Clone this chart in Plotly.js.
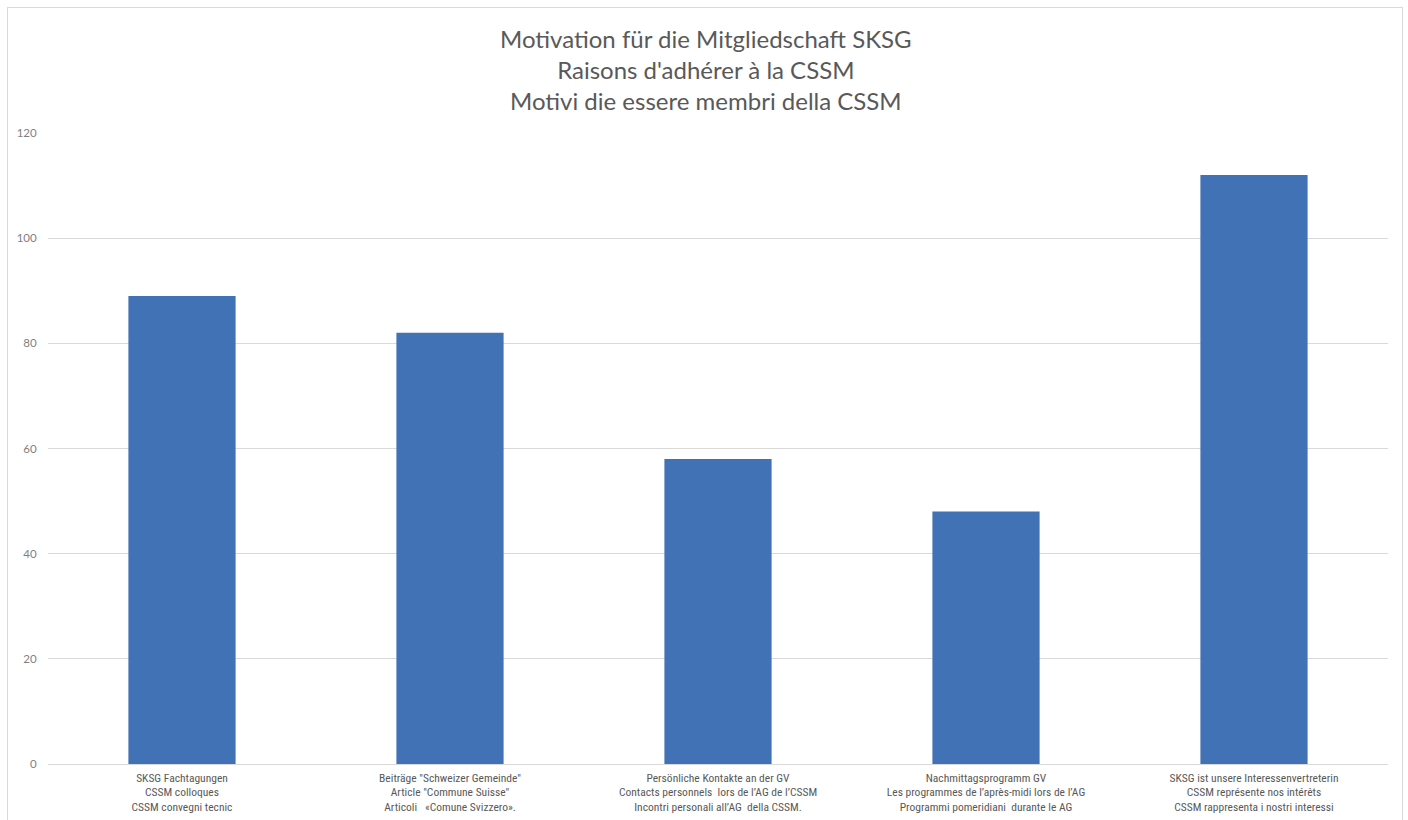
<!DOCTYPE html>
<html>
<head>
<meta charset="utf-8">
<script src="https://cdn.plot.ly/plotly-3.0.1.min.js"></script>
<style>
html,body{margin:0;padding:0;background:#fff;overflow:hidden;}
#frame{position:absolute;left:7px;top:7px;width:1396px;height:830px;border:1px solid #d9d9d9;box-sizing:border-box;}
#chart{position:absolute;left:0;top:0;width:1408px;height:820px;}
</style>
</head>
<body>
<div id="frame"></div>
<div id="chart"></div>
<script>
const categories = [
  "SKSG Fachtagungen<br>CSSM colloques<br>CSSM convegni tecnic",
  "Beiträge \"Schweizer Gemeinde\"<br>Article \"Commune Suisse\"<br>Articoli   «Comune Svizzero».",
  "Persönliche Kontakte an der GV<br>Contacts personnels  lors de l’AG de l’CSSM<br>Incontri personali all’AG  della CSSM.",
  "Nachmittagsprogramm GV<br>Les programmes de l’après-midi lors de l’AG<br>Programmi pomeridiani  durante le AG",
  "SKSG ist unsere Interessenvertreterin<br>CSSM représente nos intérêts<br>CSSM rappresenta i nostri interessi"
];
const values = [89, 82, 58, 48, 112];
const yTicks = [0, 20, 40, 60, 80, 100, 120];
const titleText = "Motivation für die Mitgliedschaft SKSG<br>Raisons d'adhérer à la CSSM<br>Motivi die essere membri della CSSM";

const data = [{
  type: 'bar',
  x: categories,
  y: values,
  marker: {color: '#4172b6'},
  hoverinfo: 'none'
}];

const layout = {
  width: 1408,
  height: 820,
  paper_bgcolor: 'rgba(0,0,0,0)',
  plot_bgcolor: 'rgba(0,0,0,0)',
  margin: {l: 48, r: 20, t: 133, b: 56},
  bargap: 0.6,
  showlegend: false,
  annotations: [{
    text: titleText,
    xref: 'paper', yref: 'paper',
    x: (706 - 48) / 1340, y: 1 + (133 - 70) / 631,
    xanchor: 'center', yanchor: 'middle',
    showarrow: false, align: 'center',
    font: {family: 'Lato, "Open Sans", sans-serif', size: 24, color: '#595959'}
  }],
  xaxis: {
    type: 'category',
    tickfont: {family: '"Roboto Condensed", Roboto, sans-serif', size: 11.5, color: '#595959'},
    showgrid: false,
    showline: false,
    ticks: '',
    ticklabelstandoff: 5,
    automargin: false
  },
  yaxis: {
    range: [0, 120],
    tickvals: yTicks,
    ticktext: yTicks.map(String),
    showgrid: true,
    gridcolor: '#d9d9d9',
    gridwidth: 1,
    zeroline: true,
    zerolinecolor: '#d9d9d9',
    zerolinewidth: 1,
    showline: false,
    ticks: 'outside',
    ticklen: 8,
    tickcolor: 'rgba(0,0,0,0)',
    tickfont: {family: 'Lato, "Open Sans", sans-serif', size: 11.5, color: '#7f7f7f'},
    automargin: false
  }
};

Plotly.newPlot('chart', data, layout, {displayModeBar: false, staticPlot: true});
</script>
</body>
</html>
